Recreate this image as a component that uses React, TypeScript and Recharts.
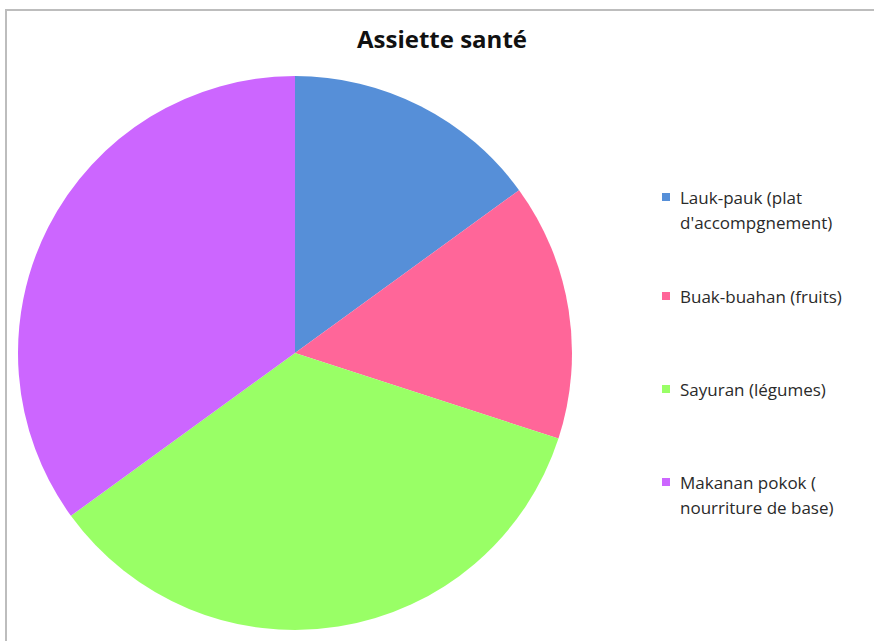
import React from 'react';
import { PieChart, Pie, Cell } from 'recharts';

// Données
const labels = [
  ['Lauk-pauk (plat', "d'accompgnement)"],
  ['Buak-buahan (fruits)'],
  ['Sayuran (légumes)'],
  ['Makanan pokok (', 'nourriture de base)'],
];
const values = [15, 15, 35, 35];
const colors = ['#568FD8', '#FF6699', '#99FF66', '#CC66FF'];
const legendTops = [185, 284, 377, 470];

const data = labels.map((l, i) => ({ name: l.join(' '), value: values[i] }));

export default function App() {
  const font = '"Open Sans", sans-serif';
  return (
    <div style={{ position: 'absolute', left: 0, top: 0, width: 874, height: 641, background: '#fff', overflow: 'hidden' }}>
      {/* cadre */}
      <div style={{ position: 'absolute', left: 5, top: 9, width: 880, height: 640, borderLeft: '2px solid #bdbdbd', borderTop: '2px solid #bdbdbd' }} />
      <div style={{ position: 'absolute', left: 0, top: 22, width: 884, textAlign: 'center', fontFamily: font, fontWeight: 700, fontSize: 24, color: '#111' }}>
        Assiette santé
      </div>
      <div style={{ position: 'absolute', left: 0, top: 0 }}>
        <PieChart width={874} height={641} margin={{ top: 0, right: 0, bottom: 0, left: 0 }}>
          <Pie
            data={data}
            dataKey="value"
            nameKey="name"
            cx={295}
            cy={353}
            outerRadius={277}
            startAngle={90}
            endAngle={-270}
            stroke="none"
            isAnimationActive={false}
          >
            {data.map((d, i) => (
              <Cell key={i} fill={colors[i]} />
            ))}
          </Pie>
        </PieChart>
      </div>
      {labels.map((l, i) => (
        <div key={i} style={{ position: 'absolute', left: 662, top: legendTops[i], fontFamily: font, fontSize: 17, color: '#2a2a2a', lineHeight: '25px' }}>
          <div style={{ position: 'absolute', left: 0, top: 8, width: 8, height: 8, background: colors[i] }} />
          {l.map((t, j) => (
            <div key={j} style={{ marginLeft: 18, whiteSpace: 'nowrap' }}>{t}</div>
          ))}
        </div>
      ))}
    </div>
  );
}
